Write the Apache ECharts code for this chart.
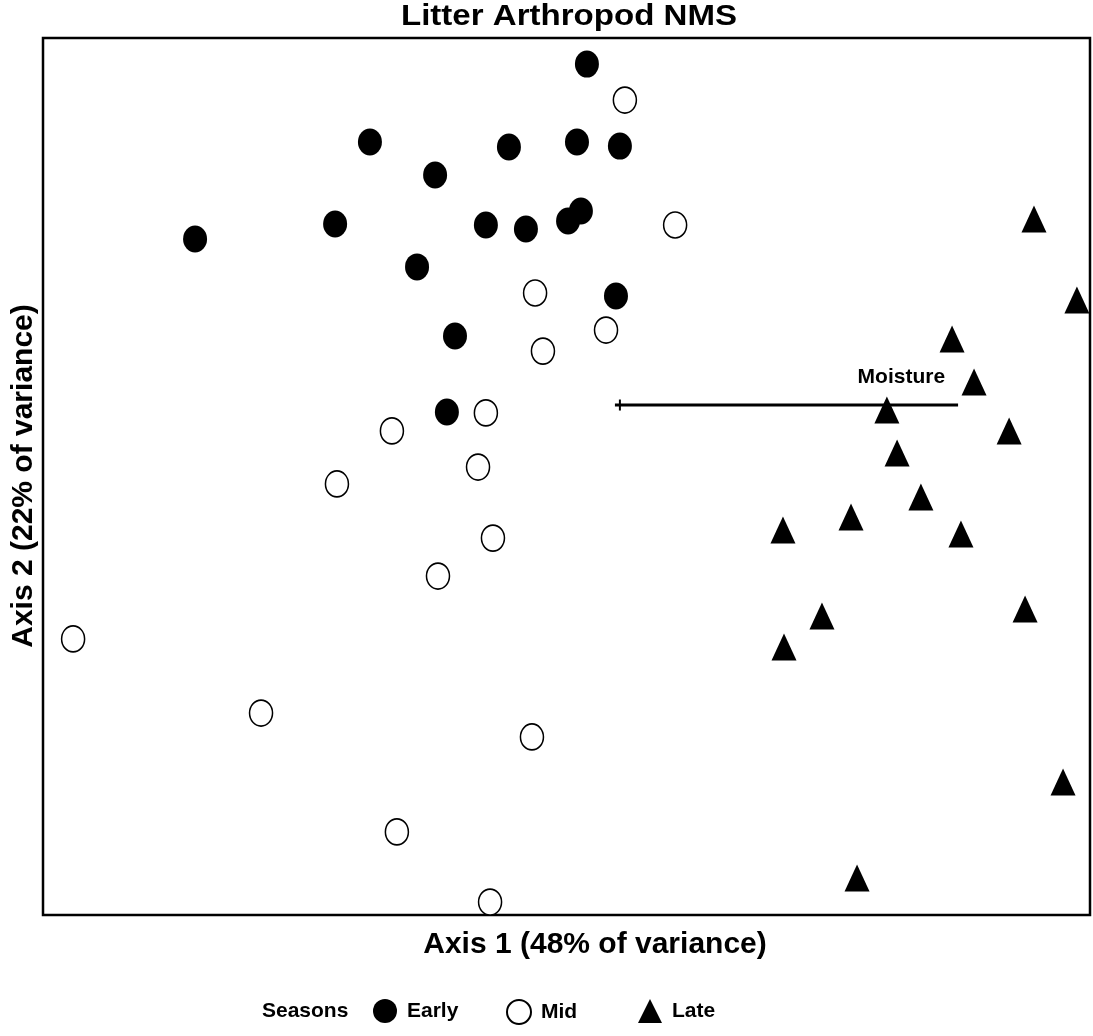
<!DOCTYPE html>
<html>
<head>
<meta charset="utf-8">
<title>Litter Arthropod NMS</title>
<script src="https://cdn.jsdelivr.net/npm/echarts@6/dist/echarts.min.js"></script>
<style>
  html, body { margin: 0; padding: 0; background: #fff; }
  #chart { width: 1093px; height: 1036px; }
</style>
</head>
<body>
<div id="chart"></div>
<script>
// NMS ordination scores [axis1, axis2] for each sample, grouped by season
const earlyScores = [
  [0.078, 1.881], [-0.751, 1.526], [-0.220, 1.503], [0.040, 1.526],
  [0.204, 1.507], [-0.502, 1.375], [-1.419, 1.083], [-0.884, 1.152],
  [-0.308, 1.147], [-0.155, 1.129], [0.006, 1.165], [0.055, 1.211],
  [-0.571, 0.956], [0.189, 0.823], [-0.426, 0.641], [-0.457, 0.294]
];
const midScores = [
  [0.223, 1.717], [0.415, 1.147], [-0.120, 0.837], [0.151, 0.668],
  [-0.090, 0.572], [-0.308, 0.290], [-0.667, 0.208], [-0.338, 0.043],
  [-0.877, -0.034], [-0.281, -0.281], [-0.491, -0.454], [-1.885, -0.741],
  [-1.167, -1.079], [-0.132, -1.188], [-0.648, -1.621], [-0.292, -1.941]
];
const lateScores = [
  [1.786, 1.174], [1.950, 0.805], [1.473, 0.627], [1.557, 0.431],
  [1.224, 0.303], [1.691, 0.208], [1.263, 0.107], [1.354, -0.094],
  [1.087, -0.185], [0.827, -0.244], [1.507, -0.262], [1.752, -0.604],
  [0.976, -0.636], [0.831, -0.778], [1.897, -1.393], [1.110, -1.831]
];
// Joint-plot vector for the moisture variable (tail, then tip)
const moistureVector = [[0.185, 0.326], [1.496, 0.326]];
const moistureOrigin = [[0.204, 0.326]];

const seasonNames = ['Early', 'Mid', 'Late'];
const axisRange = [-2, 2];

const FONT = '"Liberation Sans", Arial, sans-serif';
const chart = echarts.init(document.getElementById('chart'), null, { renderer: 'canvas' });

const hiddenAxis = {
  type: 'value',
  min: axisRange[0],
  max: axisRange[1],
  axisLine: { show: false },
  axisTick: { show: false },
  axisLabel: { show: false },
  splitLine: { show: false }
};

function legendFor(name, left, icon) {
  return {
    data: [name],
    left: left,
    top: 999,
    padding: 0,
    icon: icon,
    itemWidth: 24,
    itemHeight: 24,
    selectedMode: false,
    textStyle: {
      fontFamily: FONT, fontWeight: 'bold', fontSize: 21, color: '#000',
      padding: [0, 0, 0, 5]
    }
  };
}

chart.setOption({
  animation: false,
  backgroundColor: '#fff',
  grid: {
    left: 43, top: 38, right: 3, bottom: 121,
    show: true, borderColor: '#000', borderWidth: 2.5, backgroundColor: 'transparent'
  },
  xAxis: hiddenAxis,
  yAxis: hiddenAxis,
  legend: [
    legendFor(seasonNames[0], 373, 'circle'),
    legendFor(seasonNames[1], 506, 'circle'),
    legendFor(seasonNames[2], 638, 'triangle')
  ],
  graphic: [
    {
      type: 'text', x: 569, y: 17, scaleX: 1.14,
      style: { text: 'Litter Arthropod NMS', fontFamily: FONT, fontWeight: 'bold', fontSize: 29, fill: '#000',
               align: 'center', verticalAlign: 'middle' }
    },
    {
      type: 'text', x: 595, y: 945,
      style: { text: 'Axis 1 (48% of variance)', fontFamily: FONT, fontWeight: 'bold', fontSize: 30, fill: '#000',
               align: 'center', verticalAlign: 'middle' }
    },
    {
      type: 'text', x: 24, y: 476, rotation: Math.PI / 2,
      style: { text: 'Axis 2 (22% of variance)', fontFamily: FONT, fontWeight: 'bold', fontSize: 30, fill: '#000',
               align: 'center', verticalAlign: 'middle' }
    },
    {
      type: 'text', x: 262, y: 1011,
      style: { text: 'Seasons', fontFamily: FONT, fontWeight: 'bold', fontSize: 21, fill: '#000',
               align: 'left', verticalAlign: 'middle' }
    }
  ],
  series: [
    {
      name: 'Moisture',
      type: 'line',
      data: moistureVector.map((p, i) => i === 1 ? {
        value: p,
        label: {
          show: true, position: 'top', align: 'right', offset: [-13, -12],
          formatter: 'Moisture',
          fontFamily: FONT, fontWeight: 'bold', fontSize: 21, color: '#000'
        }
      } : p),
      symbol: 'circle',
      symbolSize: 0,
      showSymbol: true,
      lineStyle: { color: '#000', width: 3 },
      itemStyle: { color: '#000', opacity: 1 },
      z: 1
    },
    {
      name: 'origin',
      type: 'scatter',
      data: moistureOrigin,
      symbol: 'rect',
      symbolSize: [2, 11],
      itemStyle: { color: '#000', opacity: 1 },
      z: 1
    },
    {
      name: seasonNames[0],
      type: 'scatter',
      data: earlyScores,
      symbol: 'circle',
      symbolSize: [24, 27],
      itemStyle: { color: '#000', opacity: 1 },
      z: 3
    },
    {
      name: seasonNames[1],
      type: 'scatter',
      data: midScores,
      symbol: 'circle',
      symbolSize: [23, 26],
      itemStyle: { color: '#fff', borderColor: '#000', borderWidth: 1.6, opacity: 1 },
      z: 3
    },
    {
      name: seasonNames[2],
      type: 'scatter',
      data: lateScores,
      symbol: 'triangle',
      symbolSize: [25, 27],
      itemStyle: { color: '#000', opacity: 1 },
      z: 3
    }
  ]
});
</script>
</body>
</html>
